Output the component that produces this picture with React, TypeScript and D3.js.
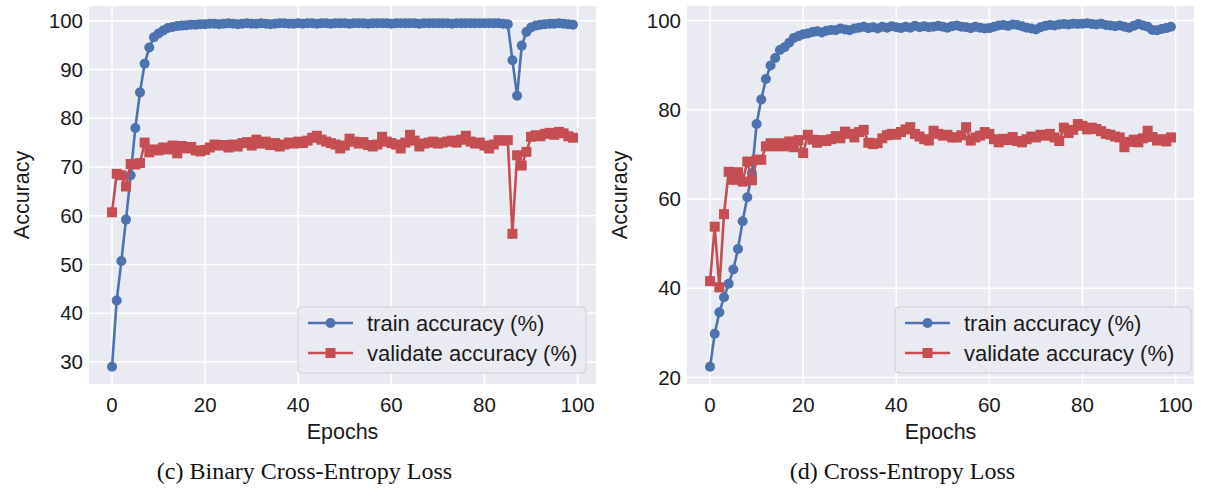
import React from 'react';
import * as d3 from 'd3';

const epochs = d3.range(100);
const xTicks = [0, 20, 40, 60, 80, 100];

const bceTicks = [30, 40, 50, 60, 70, 80, 90, 100];
const ceTicks = [20, 40, 60, 80, 100];

const bceTrain = [
  29.0, 42.6, 50.7, 59.2, 68.3, 78.0, 85.3, 91.2, 94.5, 96.6,
  97.4, 98.0, 98.5, 98.7, 98.9, 99.0, 99.1, 99.2, 99.2, 99.3,
  99.3, 99.4, 99.4, 99.3, 99.4, 99.5, 99.4, 99.3, 99.4, 99.5,
  99.4, 99.4, 99.5, 99.4, 99.3, 99.4, 99.5, 99.5, 99.4, 99.4,
  99.5, 99.4, 99.5, 99.5, 99.4, 99.5, 99.5, 99.4, 99.5, 99.5,
  99.5, 99.4, 99.5, 99.5, 99.5, 99.4, 99.5, 99.5, 99.5, 99.5,
  99.4, 99.5, 99.5, 99.5, 99.5, 99.5, 99.4, 99.5, 99.5, 99.5,
  99.5, 99.5, 99.5, 99.4, 99.5, 99.5, 99.5, 99.5, 99.5, 99.5,
  99.5, 99.5, 99.5, 99.5, 99.4, 99.3, 91.9, 84.6, 94.9, 97.7,
  98.6, 99.0, 99.2, 99.3, 99.4, 99.4, 99.5, 99.4, 99.3, 99.2,
];

const bceVal = [
  60.7, 68.6, 68.3, 66.0, 70.6, 70.5, 70.8, 75.0, 73.0, 73.6,
  73.4, 74.0, 73.6, 74.4, 72.8, 74.3, 73.8, 74.1, 73.4, 73.2,
  73.5, 74.0, 74.6, 74.4, 74.5, 74.0, 74.6, 74.2, 74.9, 75.1,
  74.4, 75.6, 74.8, 75.2, 74.5, 74.9, 74.2, 74.6, 75.0, 74.8,
  75.2, 74.9, 75.4, 76.0, 76.4, 75.6, 75.2, 74.9, 74.6, 73.8,
  74.4, 75.8, 75.2, 74.8, 75.1, 74.5, 74.2, 74.6, 76.2, 75.2,
  74.9, 74.6, 73.8, 75.0, 76.6, 75.4, 74.2, 74.8, 75.0, 75.2,
  74.8, 75.0, 75.2, 75.4, 75.0, 75.6, 76.4, 75.2, 74.8, 75.0,
  74.4, 73.8, 74.6, 75.5, 75.4, 75.5, 56.3, 72.4, 70.3, 73.1,
  76.2, 76.5, 76.3, 76.8, 77.0, 76.6, 77.2, 76.9, 76.3, 76.0,
];

const ceTrain = [
  22.4, 29.8, 34.6, 38.0, 41.0, 44.2, 48.8, 55.0, 60.4, 65.8,
  76.8, 82.3, 86.9, 89.9, 91.6, 93.4, 94.0, 95.0, 96.1, 96.5,
  96.9, 97.1, 97.4, 97.6, 97.3, 97.7, 97.9, 97.8, 98.2, 98.0,
  97.8, 98.2, 98.4, 98.6, 98.3, 98.5, 98.2, 98.6, 98.4, 98.7,
  98.5, 98.3, 98.6, 98.4, 98.8, 98.5, 98.7, 98.5, 98.6, 98.8,
  98.6, 98.4, 98.7, 98.9, 98.6, 98.5, 98.3, 98.6, 98.4, 98.2,
  98.3, 98.6, 98.9, 99.0, 98.8, 99.1, 99.0, 98.7, 98.4, 98.2,
  98.0, 98.5, 98.8, 99.0, 98.9, 99.1, 99.2, 99.1, 99.3, 99.2,
  99.3, 99.4, 99.2, 99.1, 99.3, 99.0, 98.9, 98.7, 98.9, 98.6,
  98.4, 98.8, 99.2, 98.9, 98.6, 97.9, 97.8, 98.1, 98.3, 98.6,
];

const ceVal = [
  41.6, 53.8, 40.2, 56.6, 66.1, 64.3, 66.0, 63.9, 68.4, 64.2,
  68.8, 68.8, 71.8, 72.5, 71.8, 72.5, 71.8, 72.9, 71.6, 73.2,
  70.3, 74.4, 73.3, 72.6, 73.2, 73.0, 73.4, 74.1, 73.6, 75.1,
  74.6, 73.8, 75.0, 75.5, 72.6, 72.3, 72.5, 73.6, 74.3, 74.6,
  74.4, 75.0, 75.6, 76.1, 74.6, 74.0, 73.4, 73.1, 75.3, 74.6,
  74.2, 74.4, 73.8, 73.8, 74.3, 76.1, 73.1, 73.8, 74.2, 75.0,
  74.6, 73.4, 72.7, 73.5, 73.2, 73.9, 73.0, 72.7, 73.4, 74.0,
  73.8, 74.4, 74.2, 74.6, 73.8, 73.0, 76.0, 74.8, 75.5, 76.8,
  76.4, 75.6, 76.0, 75.7, 75.2, 74.6, 74.4, 74.0, 73.8, 71.6,
  72.8, 73.3, 72.7, 73.6, 75.3, 73.9, 73.1, 73.4, 72.9, 73.8,
];

const BLUE = '#4C72B0';
const RED = '#C44E52';
const BG = '#EAEAF2';
const INK = '#1a1a1a';
const SANS = '"Liberation Sans", Arial, sans-serif';
const SERIF = '"Liberation Serif", "Times New Roman", serif';

interface PanelProps {
  train: number[];
  val: number[];
  yTicks: number[];
  x0: number;
  x1: number;
  caption: string;
  legendX: number;
  legendW: number;
}

const Panel: React.FC<PanelProps> = ({ train, val, yTicks, x0, x1, caption, legendX, legendW }) => {
  const top = 6;
  const bottom = 384;

  const x = d3.scaleLinear().domain([-4.95, 103.95]).range([x0, x1]);
  const lo = d3.min([...train, ...val]) as number;
  const hi = d3.max([...train, ...val]) as number;
  const pad = (hi - lo) * 0.05;
  const y = d3.scaleLinear().domain([lo - pad, hi + pad]).range([bottom, top]);

  const line = d3.line<number>().x((_, i) => x(epochs[i])).y(d => y(d));
  const mid = (x0 + x1) / 2;

  const ly = 307;
  const lh = 66;
  const r = 5;
  const s = 10;

  return (
    <g>
      <rect x={x0} y={top} width={x1 - x0} height={bottom - top} fill={BG} />
      {xTicks.map(t => (
        <line key={'gx' + t} x1={x(t)} x2={x(t)} y1={top} y2={bottom} stroke="#fff" strokeWidth={1.5} />
      ))}
      {yTicks.map(t => (
        <line key={'gy' + t} x1={x0} x2={x1} y1={y(t)} y2={y(t)} stroke="#fff" strokeWidth={1.5} />
      ))}

      <path d={line(train) || undefined} fill="none" stroke={BLUE} strokeWidth={2.6} />
      {train.map((d, i) => (
        <circle key={'t' + i} cx={x(epochs[i])} cy={y(d)} r={r} fill={BLUE} />
      ))}
      <path d={line(val) || undefined} fill="none" stroke={RED} strokeWidth={2.6} />
      {val.map((d, i) => (
        <rect key={'v' + i} x={x(epochs[i]) - s / 2} y={y(d) - s / 2} width={s} height={s} fill={RED} />
      ))}

      {xTicks.map(t => (
        <text key={'tx' + t} x={x(t)} y={412} textAnchor="middle" fontFamily={SANS} fontSize={20.5} fill={INK}>
          {t}
        </text>
      ))}
      {yTicks.map(t => (
        <text key={'ty' + t} x={x0 - 6} y={y(t)} dy="0.35em" textAnchor="end" fontFamily={SANS} fontSize={20.5} fill={INK}>
          {t}
        </text>
      ))}
      <text x={mid} y={439} textAnchor="middle" fontFamily={SANS} fontSize={21.5} fill={INK}>
        Epochs
      </text>
      <text
        transform={`translate(${x0 - 68},${(top + bottom) / 2}) rotate(-90)`}
        textAnchor="middle"
        dy="0.35em"
        fontFamily={SANS}
        fontSize={21.5}
        fill={INK}
      >
        Accuracy
      </text>
      <text x={mid - 38} y={479} textAnchor="middle" fontFamily={SERIF} fontSize={24} fill="#111">
        {caption}
      </text>

      <rect x={legendX} y={ly} width={legendW} height={lh} rx={4} fill={BG} fillOpacity={0.85} stroke="#cfcfd6" />
      {[
        { label: 'train accuracy (%)', color: BLUE, sq: false },
        { label: 'validate accuracy (%)', color: RED, sq: true },
      ].map((e, i) => {
        const cy = ly + 16 + i * 30;
        const lx = legendX + 10;
        return (
          <g key={e.label}>
            <line x1={lx} x2={lx + 45} y1={cy} y2={cy} stroke={e.color} strokeWidth={2.6} />
            {e.sq ? (
              <rect x={lx + 22.5 - s / 2} y={cy - s / 2} width={s} height={s} fill={e.color} />
            ) : (
              <circle cx={lx + 22.5} cy={cy} r={r} fill={e.color} />
            )}
            <text x={lx + 59} y={cy} dy="0.35em" fontFamily={SANS} fontSize={22} fill={INK}>
              {e.label}
            </text>
          </g>
        );
      })}
    </g>
  );
};

export default function App() {
  return (
    <svg width={1206} height={488} style={{ position: 'absolute', left: 0, top: 0, background: '#fff' }}>
      <Panel
        train={bceTrain}
        val={bceVal}
        yTicks={bceTicks}
        x0={89}
        x1={596}
        caption="(c) Binary Cross-Entropy Loss"
        legendX={298}
        legendW={288}
      />
      <Panel
        train={ceTrain}
        val={ceVal}
        yTicks={ceTicks}
        x0={687}
        x1={1194}
        caption="(d) Cross-Entropy Loss"
        legendX={895}
        legendW={296}
      />
    </svg>
  );
}
